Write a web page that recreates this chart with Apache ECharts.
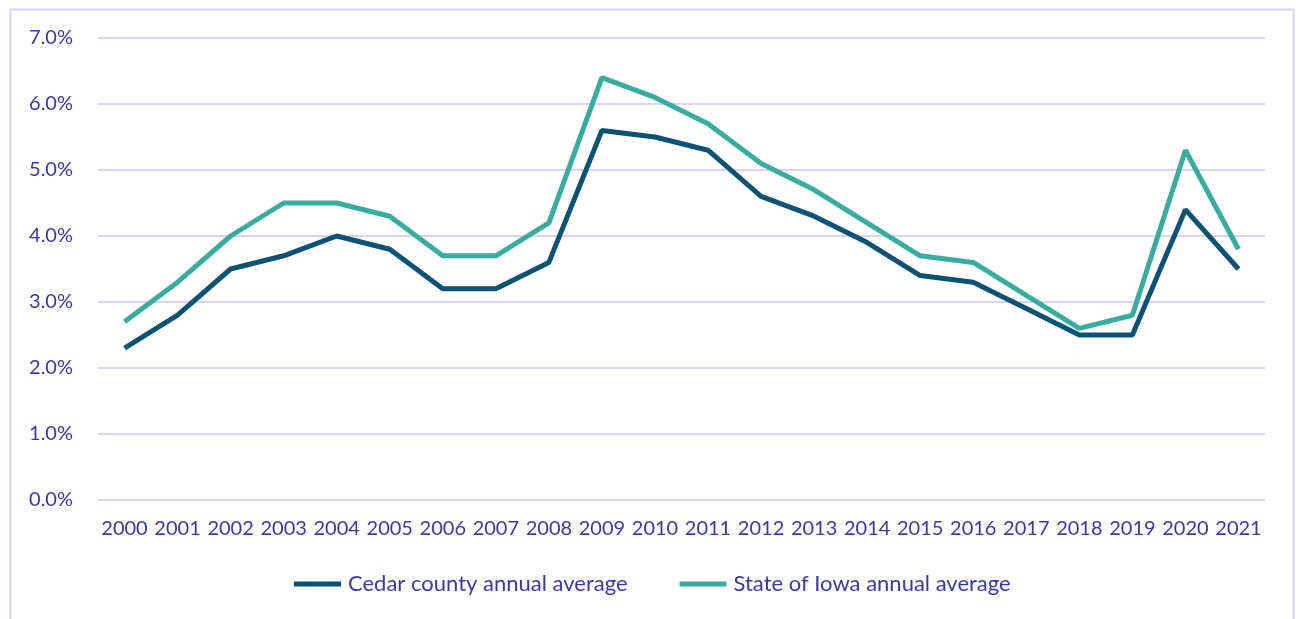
<!DOCTYPE html>
<html>
<head>
<meta charset="utf-8">
<script src="https://cdn.jsdelivr.net/npm/echarts@6/dist/echarts.min.js"></script>
<style>
  html, body { margin: 0; padding: 0; background: #fff; }
  #chart { width: 1296px; height: 619px; }
</style>
</head>
<body>
<div id="chart"></div>
<script>
// 年份
var years = ['2000', '2001', '2002', '2003', '2004', '2005', '2006', '2007', '2008', '2009', '2010',
  '2011', '2012', '2013', '2014', '2015', '2016', '2017', '2018', '2019', '2020', '2021'];
// 失业率 (%)
var cedarCounty = [2.3, 2.8, 3.5, 3.7, 4.0, 3.8, 3.2, 3.2, 3.6, 5.6, 5.5, 5.3, 4.6, 4.3, 3.9, 3.4, 3.3, 2.9, 2.5, 2.5, 4.4, 3.5];
var stateOfIowa = [2.7, 3.3, 4.0, 4.5, 4.5, 4.3, 3.7, 3.7, 4.2, 6.4, 6.1, 5.7, 5.1, 4.7, 4.2, 3.7, 3.6, 3.1, 2.6, 2.8, 5.3, 3.8];

var textColor = '#3b39a0';
var fontFamily = 'Lato, "Open Sans", sans-serif';

var myChart = echarts.init(document.getElementById('chart'));
myChart.setOption({
    animation: false,
    textStyle: { fontFamily: fontFamily },
    graphic: [
        {
            type: 'rect',
            shape: { x: 10.5, y: 9.5, width: 1283, height: 640 },
            style: { fill: null, stroke: '#d9d4f5', lineWidth: 2 },
            silent: true
        }
    ],
    grid: {
        left: 98,
        right: 31,
        top: 38,
        bottom: 119
    },
    legend: {
        bottom: 19,
        left: 289,
        itemWidth: 47,
        itemHeight: 5,
        itemGap: 52,
        icon: 'rect',
        textStyle: { color: textColor, fontSize: 22, fontFamily: fontFamily, padding: [0, 0, 0, 2] },
        data: ['Cedar county annual average', 'State of Iowa annual average']
    },
    xAxis: {
        type: 'category',
        data: years,
        boundaryGap: true,
        axisLine: { show: false },
        axisTick: { show: false },
        axisLabel: {
            color: textColor,
            fontSize: 20,
            margin: 19,
            interval: 0
        }
    },
    yAxis: {
        type: 'value',
        min: 0,
        max: 7,
        interval: 1,
        axisLine: { show: false },
        axisTick: { show: false },
        axisLabel: {
            color: textColor,
            fontSize: 20,
            margin: 25,
            formatter: function (v) { return v.toFixed(1) + '%'; }
        },
        splitLine: { lineStyle: { color: '#d9d4f5', width: 2 } }
    },
    series: [
        {
            name: 'Cedar county annual average',
            type: 'line',
            data: cedarCounty,
            symbol: 'none',
            color: '#0b5275',
            lineStyle: { width: 5, color: '#0b5275' },
            z: 3
        },
        {
            name: 'State of Iowa annual average',
            type: 'line',
            data: stateOfIowa,
            symbol: 'none',
            color: '#38ad9f',
            lineStyle: { width: 5, color: '#38ad9f' },
            z: 2
        }
    ]
});
</script>
</body>
</html>
